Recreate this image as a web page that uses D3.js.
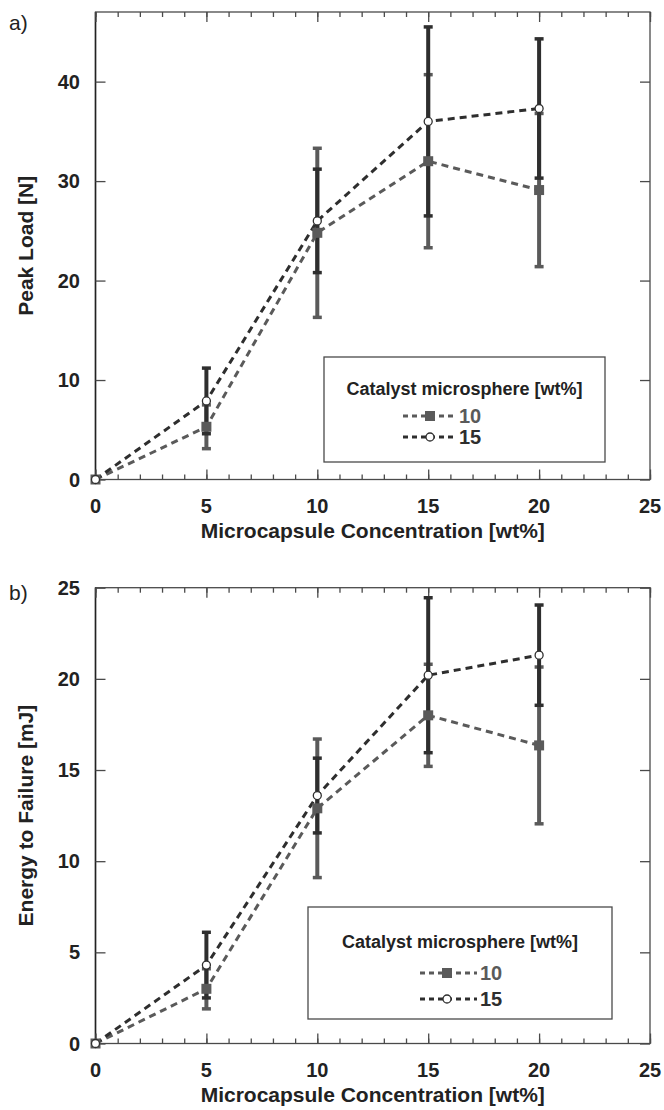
<!DOCTYPE html>
<html lang="en">
  <head>
    <meta charset="utf-8">
    <title>Peak load and energy to failure</title>
    <script src="https://d3js.org/d3.v7.min.js"></script>
    <style>
      body { margin: 0; background: #fff; }
      svg { display: block; font-family: "Liberation Sans", Arial, sans-serif; }
    </style>
  </head>
  <body>
    <script>
// values
const concentrations = [0, 5, 10, 15, 20]
const xTicks = [0, 5, 10, 15, 20, 25]

const peakLoad10 = [0, 5.3, 24.8, 32.0, 29.1]
const peakLoad10Err = [0, 2.2, 8.5, 8.7, 7.7]
const peakLoad15 = [0, 7.9, 26.0, 36.0, 37.3]
const peakLoad15Err = [0, 3.3, 5.2, 9.5, 7.0]
const peakTicks = [0, 10, 20, 30, 40]

const energy10 = [0, 3.0, 12.9, 18.0, 16.35]
const energy10Err = [0, 1.1, 3.8, 2.8, 4.3]
const energy15 = [0, 4.3, 13.6, 20.2, 21.3]
const energy15Err = [0, 1.8, 2.05, 4.25, 2.75]
const energyTicks = [0, 5, 10, 15, 20, 25]

const seriesNames = ['10', '15']
const legendTitle = 'Catalyst microsphere [wt%]'
const xTitle = 'Microcapsule Concentration [wt%]'

const grey = '#5a5a5a'
const dark = '#2e2e2e'

const svg = d3.select('body').append('svg')
  .attr('width', 664)
  .attr('height', 1110)

function drawPanel(p) {
  const x = d3.scaleLinear().domain([0, 25]).range([95.5, 650])
  const y = d3.scaleLinear().domain(p.yDomain).range([p.bottom, p.top])
  const g = svg.append('g')

  // frame
  g.append('rect')
    .attr('x', x(0)).attr('y', p.top)
    .attr('width', x(25) - x(0)).attr('height', p.bottom - p.top)
    .attr('fill', 'none').attr('stroke', '#4a4a4a').attr('stroke-width', 1.3)
  g.append('line')
    .attr('x1', x(0)).attr('x2', x(0)).attr('y1', p.top).attr('y2', p.bottom)
    .attr('stroke', '#222').attr('stroke-width', 1.5)

  // ticks, all pointing inwards
  const minor = d3.range(0, 26)
  const tickStyle = sel => sel.call(a => a.select('.domain').remove())
    .call(a => a.selectAll('line').attr('stroke', '#4a4a4a').attr('stroke-width', 1.3))
    .call(a => a.selectAll('text').remove())

  g.append('g').attr('transform', `translate(0,${p.bottom})`)
    .call(d3.axisTop(x).tickValues(minor).tickSize(5)).call(tickStyle)
  g.append('g').attr('transform', `translate(0,${p.bottom})`)
    .call(d3.axisTop(x).tickValues(xTicks).tickSize(10)).call(tickStyle)
  g.append('g').attr('transform', `translate(0,${p.top})`)
    .call(d3.axisBottom(x).tickValues(minor).tickSize(5)).call(tickStyle)
  g.append('g').attr('transform', `translate(0,${p.top})`)
    .call(d3.axisBottom(x).tickValues(xTicks).tickSize(10)).call(tickStyle)
  g.append('g').attr('transform', `translate(${x(0)},0)`)
    .call(d3.axisRight(y).tickValues(p.yTicks).tickSize(10)).call(tickStyle)
  g.append('g').attr('transform', `translate(${x(25)},0)`)
    .call(d3.axisLeft(y).tickValues(p.yTicks).tickSize(10)).call(tickStyle)

  // tick labels
  g.selectAll('.xl').data(xTicks).join('text')
    .attr('x', d => x(d)).attr('y', p.bottom + 33)
    .attr('text-anchor', 'middle')
    .attr('font-size', 20).attr('font-weight', 'bold').attr('fill', '#222')
    .text(d => d)
  g.selectAll('.yl').data(p.yTicks).join('text')
    .attr('x', 80).attr('y', d => y(d) + 7)
    .attr('text-anchor', 'end')
    .attr('font-size', 20).attr('font-weight', 'bold').attr('fill', '#222')
    .text(d => d)

  // axis titles
  g.append('text')
    .attr('x', (x(0) + x(25)) / 2).attr('y', p.bottom + 58)
    .attr('text-anchor', 'middle')
    .attr('font-size', 21).attr('font-weight', 'bold').attr('fill', '#222')
    .text(xTitle)
  g.append('text')
    .attr('transform', `translate(32.5,${(p.top + p.bottom) / 2}) rotate(-90)`)
    .attr('text-anchor', 'middle')
    .attr('font-size', 21).attr('font-weight', 'bold').attr('fill', '#222')
    .text(p.yTitle)
  g.append('text')
    .attr('x', 9).attr('y', p.tagY)
    .attr('font-size', 21).attr('fill', '#222')
    .text(p.tag)

  const series = [
    { vals: p.s10, err: p.e10, color: grey, name: seriesNames[0] },
    { vals: p.s15, err: p.e15, color: dark, name: seriesNames[1] }
  ]

  // error bars (grey first, dark over it)
  series.forEach(s => {
    const pts = concentrations.map((c, i) => ({ c, v: s.vals[i], e: s.err[i] })).filter(d => d.e > 0)
    g.selectAll(null).data(pts).join('line')
      .attr('x1', d => x(d.c)).attr('x2', d => x(d.c))
      .attr('y1', d => y(d.v - d.e)).attr('y2', d => y(d.v + d.e))
      .attr('stroke', s.color).attr('stroke-width', 4)
    ;[-1, 1].forEach(sign => {
      g.selectAll(null).data(pts).join('line')
        .attr('x1', d => x(d.c) - 4.5).attr('x2', d => x(d.c) + 4.5)
        .attr('y1', d => y(d.v + sign * d.e)).attr('y2', d => y(d.v + sign * d.e))
        .attr('stroke', s.color).attr('stroke-width', 3.5)
    })
  })

  // dashed lines
  const line = d3.line().x((d, i) => x(concentrations[i])).y(d => y(d))
  series.forEach(s => {
    g.append('path').datum(s.vals)
      .attr('d', line)
      .attr('fill', 'none').attr('stroke', s.color)
      .attr('stroke-width', 3).attr('stroke-dasharray', '7,5')
  })

  // markers
  g.selectAll(null).data(p.s10).join('rect')
    .attr('x', (d, i) => x(concentrations[i]) - 5).attr('y', d => y(d) - 5)
    .attr('width', 10).attr('height', 10).attr('fill', grey)
  g.selectAll(null).data(p.s15).join('circle')
    .attr('cx', (d, i) => x(concentrations[i])).attr('cy', d => y(d))
    .attr('r', 4).attr('fill', '#fff').attr('stroke', dark).attr('stroke-width', 1.3)

  // legend
  const L = p.legend
  const lg = g.append('g')
  lg.append('rect')
    .attr('x', L.x).attr('y', L.y).attr('width', L.w).attr('height', L.h)
    .attr('fill', '#fff').attr('stroke', '#4a4a4a').attr('stroke-width', 1.3)
  lg.append('text')
    .attr('x', L.x + L.w / 2).attr('y', L.titleY)
    .attr('text-anchor', 'middle')
    .attr('font-size', 18).attr('font-weight', 'bold').attr('fill', '#222')
    .text(legendTitle)
  series.forEach((s, k) => {
    const ry = L.rowY[k]
    lg.append('line')
      .attr('x1', L.x + L.line0).attr('x2', L.x + L.line1)
      .attr('y1', ry).attr('y2', ry)
      .attr('stroke', s.color).attr('stroke-width', 3).attr('stroke-dasharray', '5,4')
    if (k === 0) {
      lg.append('rect')
        .attr('x', L.x + L.mark - 5).attr('y', ry - 5).attr('width', 10).attr('height', 10)
        .attr('fill', grey)
    } else {
      lg.append('circle')
        .attr('cx', L.x + L.mark).attr('cy', ry).attr('r', 4)
        .attr('fill', '#fff').attr('stroke', dark).attr('stroke-width', 1.3)
    }
    lg.append('text')
      .attr('x', L.x + L.text).attr('y', ry + 7)
      .attr('font-size', 20).attr('font-weight', 'bold').attr('fill', s.color)
      .text(s.name)
  })
}

drawPanel({
  top: 12, bottom: 479.5, yDomain: [0, 47], yTicks: peakTicks,
  yTitle: 'Peak Load [N]', tag: 'a)', tagY: 30,
  s10: peakLoad10, e10: peakLoad10Err, s15: peakLoad15, e15: peakLoad15Err,
  legend: { x: 324, y: 357, w: 281, h: 105, titleY: 394.5, rowY: [416, 437],
            line0: 79, line1: 131, mark: 106, text: 135 }
})

drawPanel({
  top: 587.7, bottom: 1043.5, yDomain: [0, 25], yTicks: energyTicks,
  yTitle: 'Energy to Failure [mJ]', tag: 'b)', tagY: 600,
  s10: energy10, e10: energy10Err, s15: energy15, e15: energy15Err,
  legend: { x: 308, y: 907, w: 304, h: 112, titleY: 948, rowY: [973, 999],
            line0: 112, line1: 169, mark: 139, text: 172 }
})
    </script>
  </body>
</html>
